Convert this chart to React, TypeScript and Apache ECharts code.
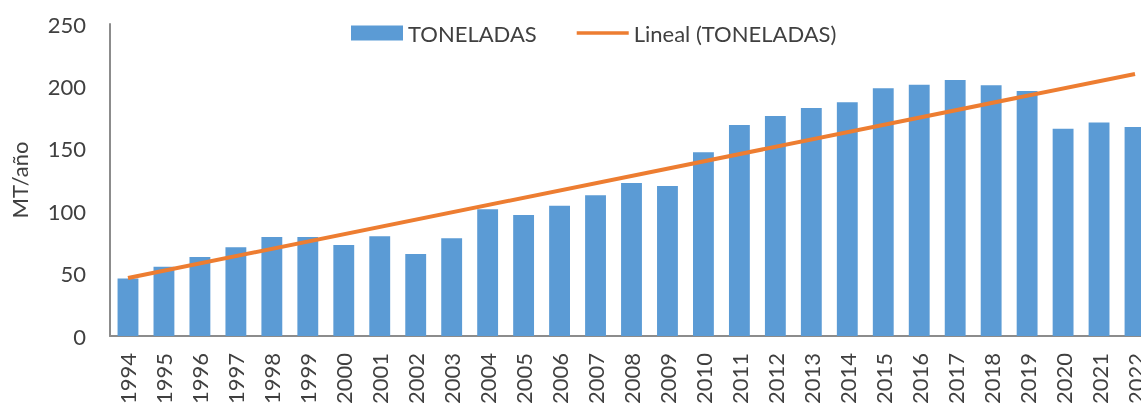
import React, { useEffect, useRef } from "react";
import * as echarts from "echarts";

const years = [
  "1994", "1995", "1996", "1997", "1998", "1999", "2000", "2001", "2002", "2003",
  "2004", "2005", "2006", "2007", "2008", "2009", "2010", "2011", "2012", "2013",
  "2014", "2015", "2016", "2017", "2018", "2019", "2020", "2021", "2022",
];
const toneladas = [
  46, 55.5, 63.3, 71.1, 79.3, 79.3, 72.9, 79.9, 65.7, 78.3,
  101.5, 97, 104.4, 112.7, 122.6, 120.2, 147.2, 169.1, 176.3, 182.7,
  187.3, 198.5, 201.4, 205.1, 200.9, 196.3, 166.1, 171.0, 167.5,
];
// Excel linear trendline endpoints (first and last year)
const trendStart = 46.5;
const trendEnd = 210;

const FONT = "Lato, 'Noto Sans', sans-serif";

export default function App() {
  const ref = useRef<HTMLDivElement>(null);
  useEffect(() => {
    if (!ref.current) return;
    const chart = echarts.init(ref.current, undefined, { renderer: "svg" });
    const trend = years.map((_, i) =>
      i === 0 ? trendStart : i === years.length - 1 ? trendEnd : null
    );
    chart.setOption({
      animation: false,
      textStyle: { fontFamily: FONT, color: "#404040" },
      legend: {
        top: 17,
        left: 346,
        itemWidth: 52,
        itemHeight: 15,
        itemGap: 40,
        textStyle: { fontSize: 22, color: "#404040", fontFamily: FONT },
        data: [
          { name: "TONELADAS", icon: "rect" },
          { name: "Lineal (TONELADAS)", icon: "path://M0,0H54V3.5H0Z" },
        ],
      },
      grid: { left: 106, top: 24, bottom: 75, right: 0, containLabel: false },
      xAxis: {
        type: "category",
        data: years,
        axisLine: { lineStyle: { color: "#8c8c8c", width: 2 } },
        axisTick: { show: false },
        axisLabel: { rotate: 90, fontSize: 22, color: "#404040", margin: 17, fontFamily: FONT, interval: 0 },
      },
      yAxis: {
        type: "value",
        min: 0,
        max: 250,
        interval: 50,
        name: "MT/año",
        nameLocation: "middle",
        nameGap: 80,
        nameRotate: 90,
        nameTextStyle: { fontSize: 22, color: "#404040", fontFamily: FONT },
        splitLine: { show: false },
        axisLine: { show: true, lineStyle: { color: "#8c8c8c", width: 2 } },
        axisTick: { show: false },
        axisLabel: { fontSize: 22, color: "#404040", margin: 24, fontFamily: FONT },
      },
      series: [
        {
          name: "TONELADAS",
          type: "bar",
          data: toneladas,
          barCategoryGap: "42%",
          itemStyle: { color: "#5B9BD5" },
        },
        {
          name: "Lineal (TONELADAS)",
          type: "line",
          data: trend,
          connectNulls: true,
          symbol: "none",
          lineStyle: { color: "#ED7D31", width: 4 },
          itemStyle: { color: "#ED7D31" },
        },
      ],
    });
    return () => chart.dispose();
  }, []);
  return (
    <div style={{ position: "fixed", left: 0, top: 0, width: 1141, height: 411, overflow: "hidden" }}>
      <div ref={ref} style={{ width: 1153, height: 411 }} />
    </div>
  );
}
